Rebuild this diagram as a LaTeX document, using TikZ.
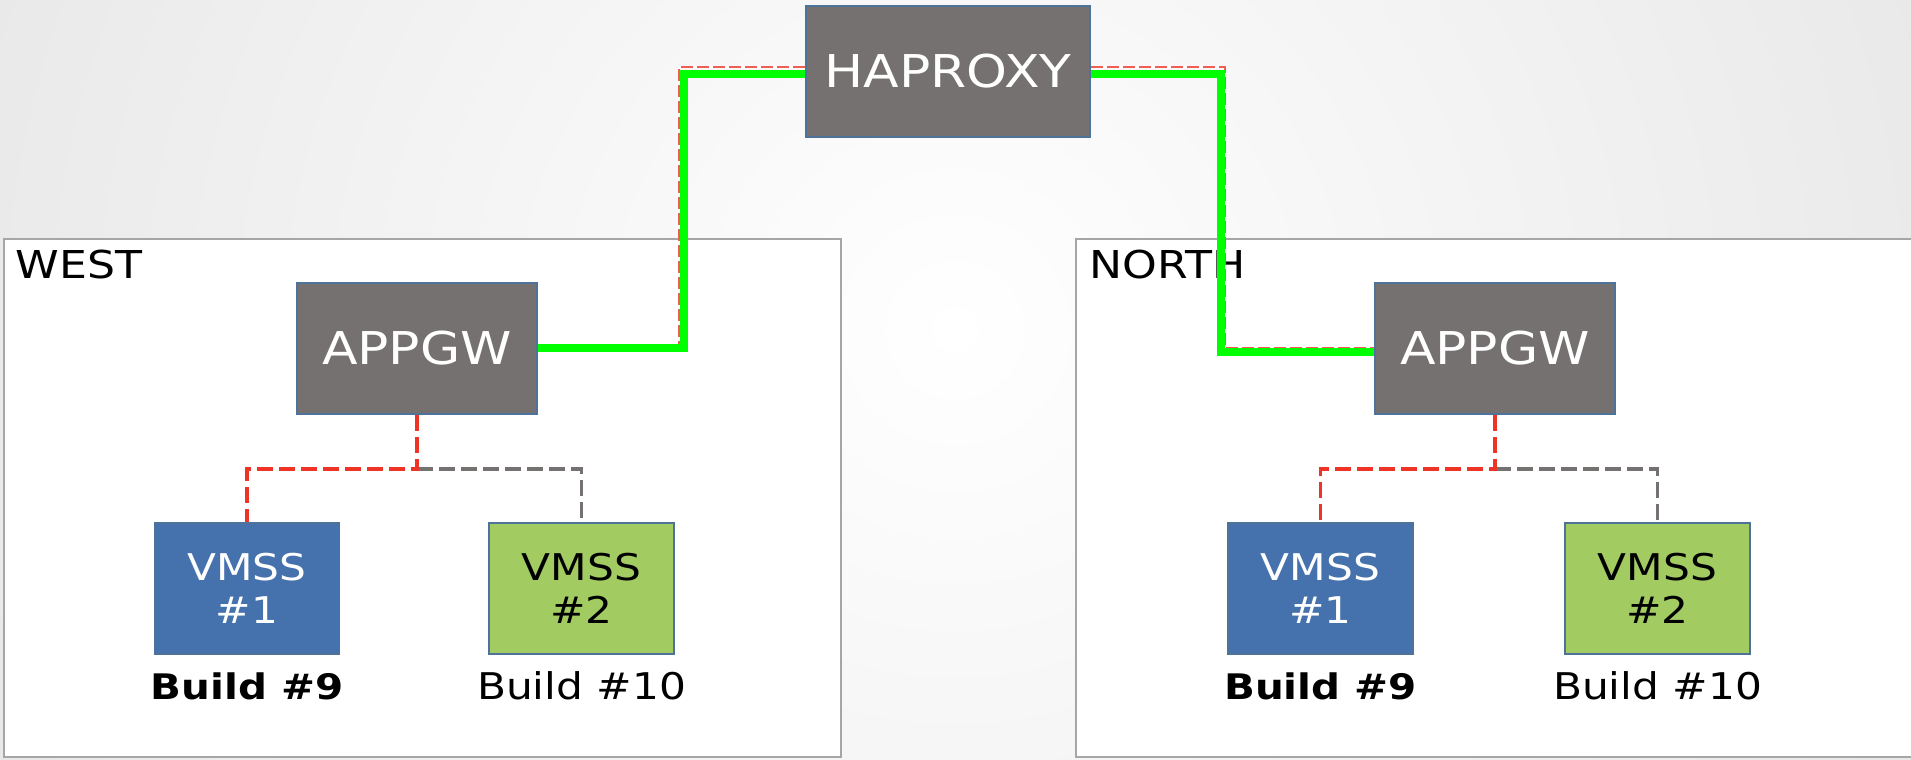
\documentclass[tikz,border=0pt]{standalone}
\usepackage{fontspec}
\setmainfont{DejaVu Sans}[FakeStretch=1.15]
\definecolor{boxgray}{HTML}{767171}
\definecolor{boxedge}{HTML}{4F729B}
\definecolor{vmblue}{HTML}{4572AD}
\definecolor{vmgreen}{HTML}{A2CB62}
\definecolor{linkgreen}{HTML}{00FF00}
\definecolor{linkred}{HTML}{EE3427}
\definecolor{bggray}{HTML}{D6D6D6}
\definecolor{framegray}{HTML}{A6A6A6}
\begin{document}
\begin{tikzpicture}[x=0.25pt,y=0.25pt,
  unit/.style={rectangle, draw=boxedge, line width=0.4pt, minimum height=32.75pt, inner sep=0pt},
  gw/.style={unit, fill=boxgray, text=white, minimum width=60pt, font=\fontsize{11.3}{13}\selectfont},
  vm/.style={unit, minimum width=46.25pt, align=center, font=\fontsize{9.2}{10.75}\selectfont},
  region/.style={draw=framegray, line width=0.5pt, fill=white},
  zone/.style={anchor=base west, inner sep=0pt, font=\fontsize{9.6}{11}\selectfont},
  tag/.style={anchor=base, font=\fontsize{9.2}{10}\selectfont},
  uplink/.style={draw=linkgreen, line width=2pt},
  ghost/.style={draw=linkred!80, line width=0.5pt, dash pattern=on 3pt off 1pt, preaction={draw=white, solid, line width=0.5pt}},
  redlink/.style={draw=linkred, line width=0.9pt, dash pattern=on 4pt off 1.5pt},
  graylink/.style={draw=boxgray, line width=0.9pt, dash pattern=on 4pt off 1.5pt}]
\useasboundingbox (0,0) rectangle (1911,760);
% background
\begin{scope}
\clip (0,0) rectangle (1911,760);
\shade[inner color=white, outer color=bggray] (955,430) circle (1900);
\end{scope}
% regions
\draw[region] (4,3) rectangle (841,521);
\draw[region] (1076,3) rectangle (1920,521);
\node [zone] (west) at (15,481) {WEST};
\node [zone] (north) at (1089,481) {NORTH};
% gateways
\node [gw, minimum width=71pt] (hap) at (948,688.5) {HAPROXY};
\node [gw] (wapp) at (417,411.5) {APPGW};
\node [gw] (napp) at (1495,411.5) {APPGW};
% scale sets
\node [vm, fill=vmblue, text=white] (wvm1) at (247,171.5) {VMSS\\\#1};
\node [vm, fill=vmgreen] (wvm2) at (581.5,171.5) {VMSS\\\#2};
\node [vm, fill=vmblue, text=white] (nvm1) at (1320.5,171.5) {VMSS\\\#1};
\node [vm, fill=vmgreen] (nvm2) at (1657.5,171.5) {VMSS\\\#2};
\node [tag, font=\fontsize{8.8}{10}\selectfont\bfseries] (wb9) at (247,60) {Build \#9};
\node [tag] (wb10) at (581.5,60) {Build \#10};
\node [tag, font=\fontsize{8.8}{10}\selectfont\bfseries] (nb9) at (1320.5,60) {Build \#9};
\node [tag] (nb10) at (1657.5,60) {Build \#10};
% links to haproxy
\draw[ghost] ([yshift=1pt]hap.west) -- ++(-126,0) |- (wapp.east);
\draw[ghost] ([yshift=1pt]hap.east) -- ++(134,0) |- (napp.west);
\draw[uplink] ([yshift=-0.75pt]hap.west) -- ++(-121,0) |- (wapp.east);
\draw[uplink] ([yshift=-0.75pt]hap.east) -- ++(130,0) |- ([yshift=-1pt]napp.west);
% links to scale sets
\draw[graylink] (wapp.south) ++(0,-54) -| (wvm2.north);
\draw[redlink] (wapp.south) -- ++(0,-54) -| (wvm1.north);
\draw[graylink] (napp.south) ++(0,-54) -| (nvm2.north);
\draw[redlink] (napp.south) -- ++(0,-54) -| (nvm1.north);
\end{tikzpicture}
\end{document}
